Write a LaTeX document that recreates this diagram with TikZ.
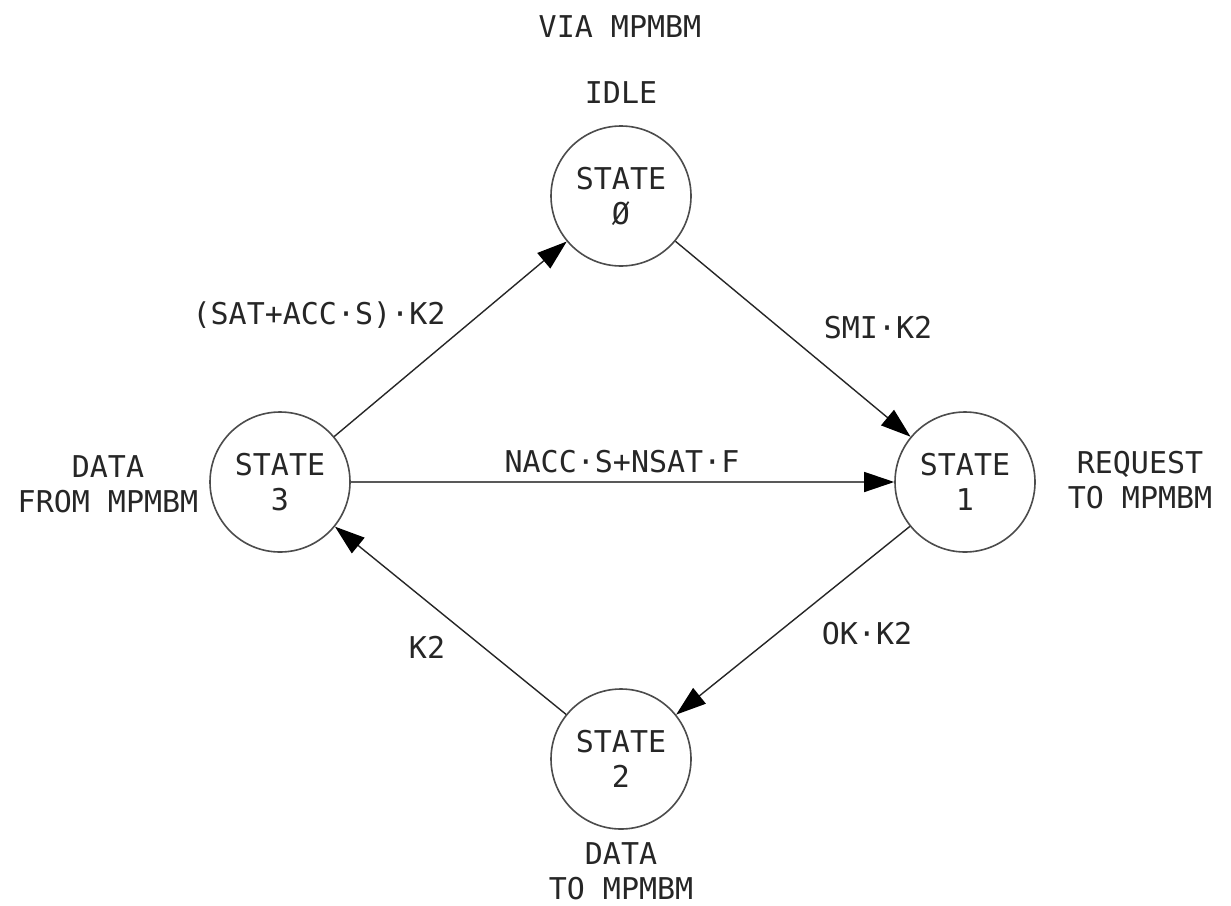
\documentclass[tikz,border=0pt]{standalone}
\usepackage{fontspec}
\setmonofont{DejaVu Sans Mono}
\usetikzlibrary{arrows.meta}
\begin{document}
\begin{tikzpicture}[x=0.5pt,y=-0.5pt,
  txt/.style={font=\ttfamily\fontsize{15}{17.5}\selectfont, inner sep=0pt, align=center, text=black!85},
  state/.style={circle, draw=black!70, line width=0.8pt, minimum size=70pt, inner sep=0pt, txt},
  conn/.style={draw=black!85, line width=0.7pt, -{Triangle[length=15pt,width=10pt,black]}},
]
\fill[white] (0,0) rectangle (1231,905);
\useasboundingbox (0,0) rectangle (1231,905);
% titles
\node[txt] (via) at (620,27) {VIA MPMBM};
\node[txt] (idle) at (621,93) {IDLE};
% states
\node[state] (s0) at (621,196) {STATE\\Ø};
\node[state] (s3) at (280,482) {STATE\\3};
\node[state] (s1) at (965,482) {STATE\\1};
\node[state] (s2) at (621,759) {STATE\\2};
% side descriptions
\node[txt] (d3) at (108,484) {DATA\\FROM MPMBM};
\node[txt] (d1) at (1140,480) {REQUEST\\TO MPMBM};
\node[txt] (d2) at (621,871) {DATA\\TO MPMBM};
% connectors
\draw[conn] (s3) -- (s0);
\draw[conn] (s0) -- (s1);
\draw[conn, draw=black!65] (s3) -- (s1);
\draw[conn] (s1) -- (s2);
\draw[conn] (s2) -- (s3);
% connector labels
\node[txt] (l30) at (319,315) {(SAT+ACC·S)·K2};
\node[txt] (l01) at (878,328) {SMI·K2};
\node[txt] (l31) at (622,462) {NACC·S+NSAT·F};
\node[txt] (l12) at (867,634) {OK·K2};
\node[txt] (l23) at (427,647) {K2};
\end{tikzpicture}
\end{document}
